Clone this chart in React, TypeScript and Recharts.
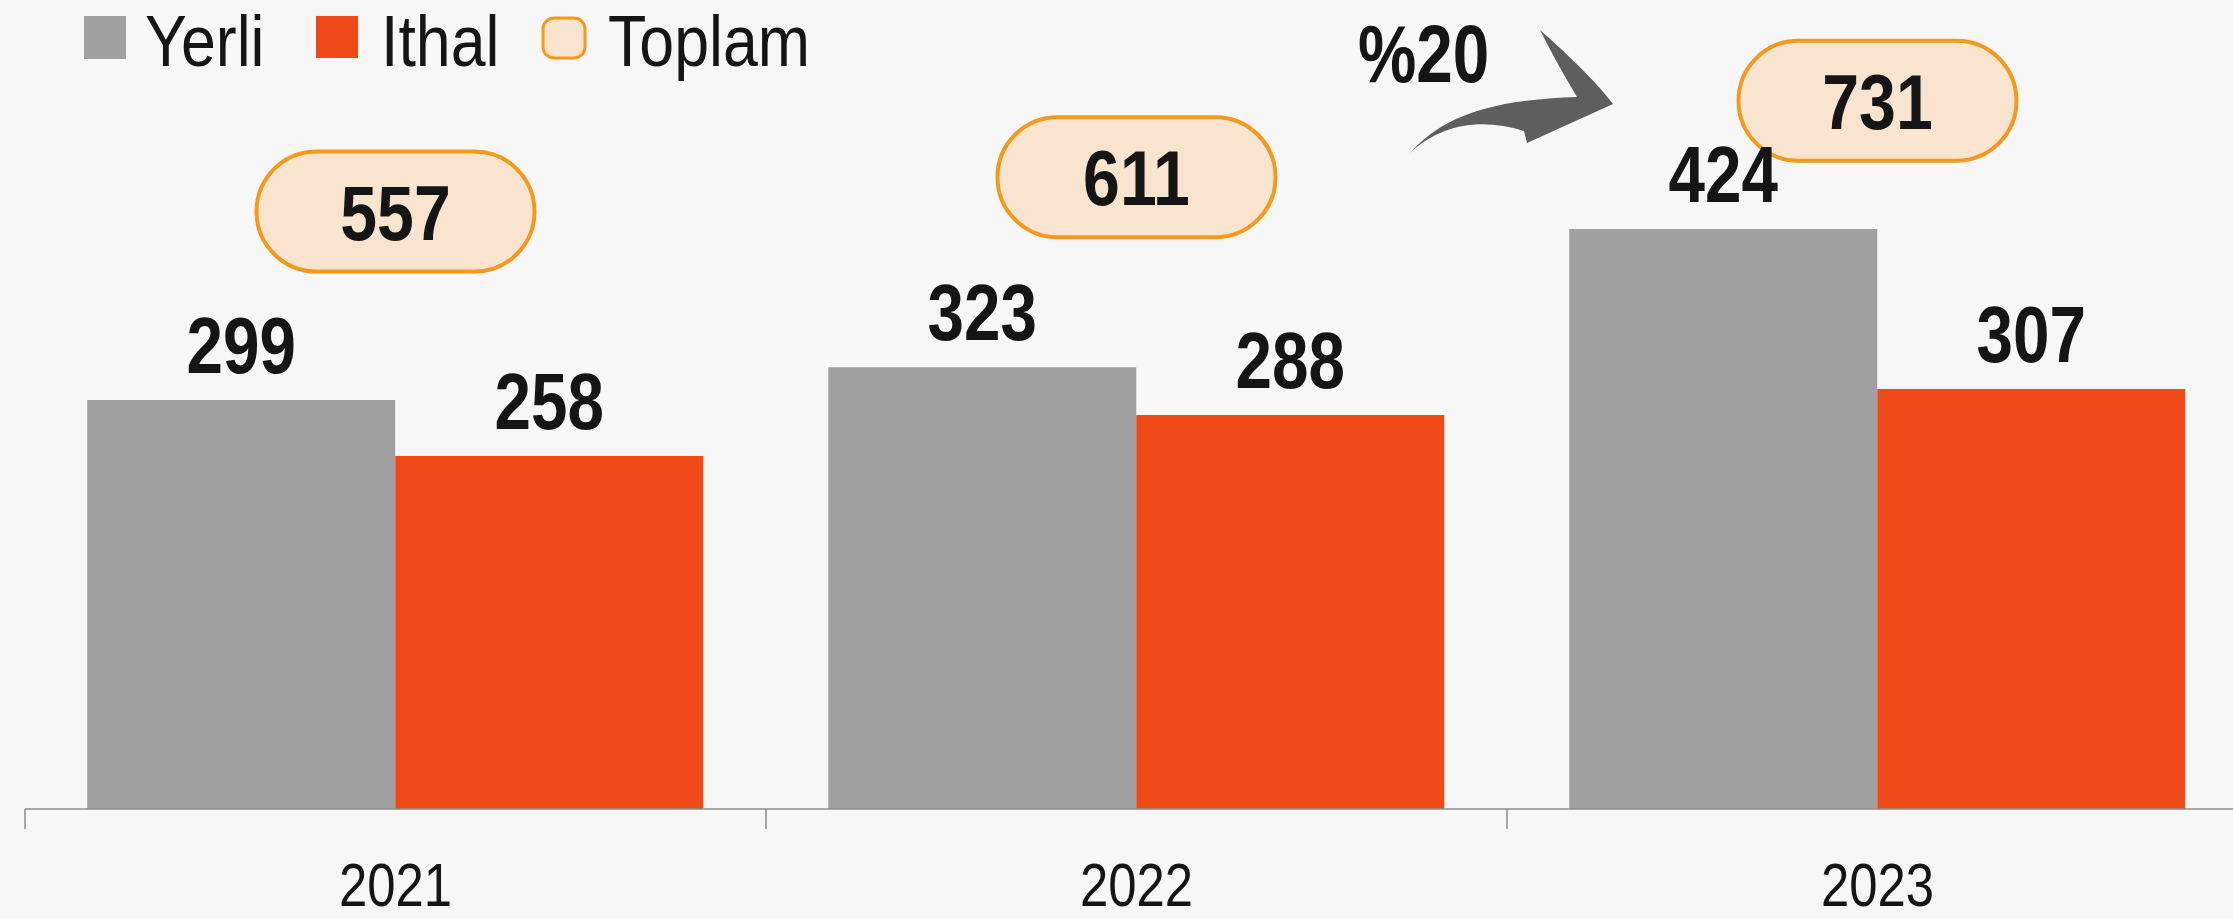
import React from "react";
import { ComposedChart, Bar, Line, XAxis, YAxis } from "recharts";

const categories = ["2021", "2022", "2023"];
const yerli = [299, 323, 424];
const ithal = [258, 288, 307];
const toplam = [557, 611, 731];

const data = categories.map((year, i) => ({
  year,
  yerli: yerli[i],
  ithal: ithal[i],
  toplam: toplam[i],
}));

// no narrow font installed, so Liberation Sans gets squeezed horizontally
const FONT = '"Liberation Sans", Arial, sans-serif';
const NARROW = 0.82;
const GRAY = "#a0a0a0";
const ORANGE = "#ef4a17";
const PILL_FILL = "#f9e5cf";
const PILL_STROKE = "#f39a1e";
const INK = "#151515";

const CHART_W = 2248;
const CHART_H = 919;
const MARGIN = { top: 2, right: 0, left: 25, bottom: 0 };
const BAND = (CHART_W - MARGIN.left - MARGIN.right) / categories.length;

function SText(props: any) {
  const { x, y, sx = NARROW, anchor = "middle", size, weight = 400, children } = props;
  return (
    <text
      transform={`translate(${x},${y}) scale(${sx},1)`}
      x={0}
      y={0}
      textAnchor={anchor}
      fontFamily={FONT}
      fontSize={size}
      fontWeight={weight}
      fill={INK}
    >
      {children}
    </text>
  );
}

function YearTick(props: any) {
  const { x, y, payload, index } = props;
  return (
    <g>
      <line x1={x - BAND / 2} x2={x - BAND / 2} y1={y} y2={y + 20} stroke="#8c8c8c" strokeWidth={1.5} />
      {index === categories.length - 1 && (
        <line x1={x + BAND / 2} x2={x + BAND / 2} y1={y} y2={y + 20} stroke="#8c8c8c" strokeWidth={1.5} />
      )}
      <SText x={x} y={y + 97} size={62}>
        {payload.value}
      </SText>
    </g>
  );
}

function BarValue(props: any) {
  const { x, y, width, value } = props;
  return (
    <SText x={x + width / 2} y={y - 27} size={80} weight={700}>
      {value}
    </SText>
  );
}

function TotalPill(props: any) {
  const { cx, cy, value, index } = props;
  if (cx == null || cy == null) return null;
  return (
    <g key={`pill-${index}`}>
      <rect x={cx - 139} y={cy - 60} width={278} height={120} rx={60} ry={60} fill={PILL_FILL} stroke={PILL_STROKE} strokeWidth={4} />
      <SText x={cx} y={cy + 28} size={77} weight={700} sx={0.86}>
        {value}
      </SText>
    </g>
  );
}

function Overlay() {
  return (
    <svg width={2233} height={919} style={{ position: "absolute", left: 0, top: 0, pointerEvents: "none" }}>
      {/* legend */}
      <rect x={84} y={16} width={42} height={43} fill={GRAY} />
      <SText x={145} y={66} anchor="start" size={72} sx={0.87}>Yerli</SText>
      <rect x={316} y={16} width={42} height={42} fill={ORANGE} />
      <SText x={381} y={66} anchor="start" size={72} sx={0.87}>Ithal</SText>
      <rect x={543} y={18} width={42} height={40} rx={11} fill={PILL_FILL} stroke={PILL_STROKE} strokeWidth={3} />
      <SText x={608} y={66} anchor="start" size={72} sx={0.87}>Toplam</SText>
      {/* growth note */}
      <SText x={1358} y={82} anchor="start" size={82} weight={700} sx={0.8}>%20</SText>
      <path
        d="M1410,153 C1440,120 1482,100 1577,97 Q1556,62 1540,30 Q1590,74 1613,104 L1527,143 L1524,131 C1480,117 1440,125 1410,153 Z"
        fill="#5e5e5e"
      />
    </svg>
  );
}

export default function App() {
  return (
    <div
      style={{
        position: "absolute",
        left: 0,
        top: 0,
        width: 2233,
        height: 919,
        overflow: "hidden",
        background: "#f7f7f7",
      }}
    >
      <ComposedChart width={CHART_W} height={CHART_H} data={data} margin={MARGIN} barCategoryGap="8.4%" barGap={0}>
        <XAxis
          dataKey="year"
          axisLine={{ stroke: "#8c8c8c", strokeWidth: 1.5 }}
          tickLine={false}
          tickSize={0}
          tickMargin={0}
          height={110}
          tick={YearTick}
          interval={0}
        />
        <YAxis yAxisId="left" hide domain={[0, 590]} />
        <YAxis yAxisId="right" orientation="right" hide domain={[-381, 886]} />
        <Bar yAxisId="left" dataKey="yerli" fill={GRAY} isAnimationActive={false} label={BarValue} />
        <Bar yAxisId="left" dataKey="ithal" fill={ORANGE} isAnimationActive={false} label={BarValue} />
        <Line
          yAxisId="right"
          dataKey="toplam"
          stroke="none"
          dot={TotalPill}
          activeDot={false}
          isAnimationActive={false}
        />
      </ComposedChart>
      <Overlay />
    </div>
  );
}
